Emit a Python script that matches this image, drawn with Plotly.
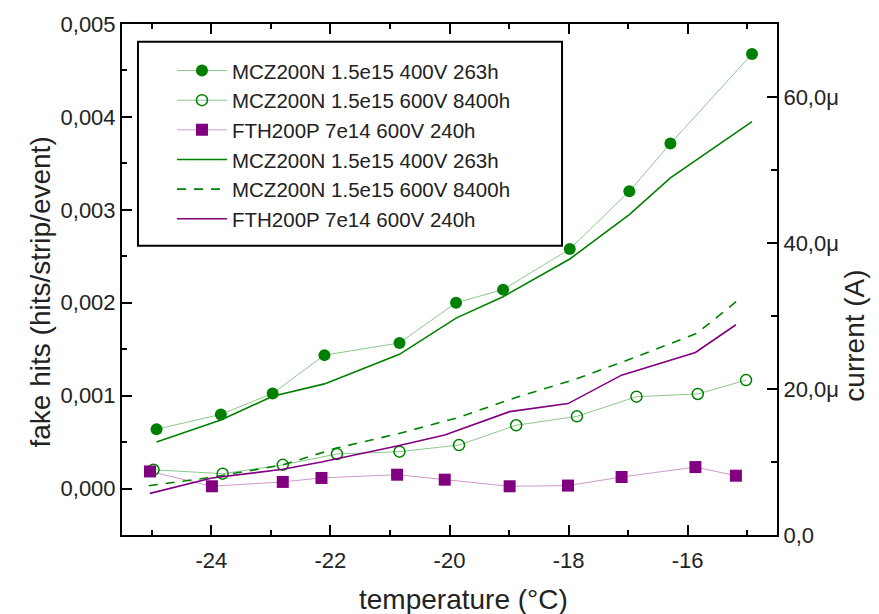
import plotly.graph_objects as go

# --- fake-hit rate (left axis) ---
t_mcz400 = [-24.92, -23.84, -22.97, -22.10, -20.84, -19.89, -19.10, -17.98, -16.98, -16.29, -14.92]
hits_mcz400 = [0.000638, 0.000798, 0.001024, 0.001436, 0.001567, 0.002000, 0.002141, 0.002578, 0.003199, 0.003713, 0.004678]

t_mcz600 = [-24.97, -23.81, -22.80, -21.89, -20.84, -19.84, -18.88, -17.86, -16.86, -15.83, -15.02]
hits_mcz600 = [0.000202, 0.000160, 0.000255, 0.000372, 0.000397, 0.000468, 0.000681, 0.000777, 0.000989, 0.001018, 0.001167]

t_fth = [-25.03, -23.99, -22.80, -22.15, -20.88, -20.08, -18.99, -18.01, -17.11, -15.87, -15.19]
hits_fth = [0.000184, 0.0000245, 0.0000713, 0.000114, 0.000149, 0.0000957, 0.0000245, 0.0000319, 0.000124, 0.000231, 0.000138]

# --- leakage current (right axis, ampere) ---
cur_mcz400 = [12.73e-6, 15.76e-6, 19.0e-6, 20.7e-6, 24.75e-6, 29.71e-6, 32.64e-6, 37.81e-6, 43.89e-6, 48.93e-6, 56.62e-6]

t_mcz600_cur = [-25.05, -24.0, -22.8, -21.9, -20.85, -19.85, -18.9, -17.9, -16.9, -15.85, -15.15]
cur_mcz600 = [6.75e-6, 7.9e-6, 9.6e-6, 11.9e-6, 13.9e-6, 16.1e-6, 18.8e-6, 21.3e-6, 24.3e-6, 27.6e-6, 32.2e-6]

cur_fth = [5.7e-6, 7.8e-6, 9.0e-6, 10.0e-6, 12.2e-6, 13.7e-6, 16.9e-6, 18.0e-6, 21.9e-6, 25.0e-6, 28.8e-6]

# --- labels ---
names = ["MCZ200N 1.5e15 400V 263h", "MCZ200N 1.5e15 600V 8400h", "FTH200P 7e14 600V 240h"]
x_title = "temperature (°C)"
y_title = "fake hits (hits/strip/event)"
y2_title = "current (A)"
x_tickvals = [-24, -22, -20, -18, -16]
x_ticktext = ["-24", "-22", "-20", "-18", "-16"]
left_ticks = [0.000, 0.001, 0.002, 0.003, 0.004, 0.005]
right_tickvals = [0, 20e-6, 40e-6, 60e-6]
right_ticktext = ["0,0", "20,0μ", "40,0μ", "60,0μ"]

GREEN = "#008000"
PURPLE = "#800080"
LIGHT_GREEN = "rgba(0,128,0,0.45)"
LIGHT_PURPLE = "rgba(128,0,128,0.4)"
FONT = "Liberation Sans, Arial, sans-serif"
TEXT = "#222"

fig = go.Figure()

fig.add_trace(go.Scatter(x=t_mcz400, y=hits_mcz400, name=names[0], mode="lines+markers",
                         line=dict(color=LIGHT_GREEN, width=1),
                         marker=dict(symbol="circle", size=12, color=GREEN, line=dict(width=0))))
fig.add_trace(go.Scatter(x=t_mcz600, y=hits_mcz600, name=names[1], mode="lines+markers",
                         line=dict(color=LIGHT_GREEN, width=1),
                         marker=dict(symbol="circle-open", size=11, color=GREEN, line=dict(width=1.5))))
fig.add_trace(go.Scatter(x=t_fth, y=hits_fth, name=names[2], mode="lines+markers",
                         line=dict(color=LIGHT_PURPLE, width=1),
                         marker=dict(symbol="square", size=12, color=PURPLE, line=dict(width=0))))

fig.add_trace(go.Scatter(x=t_mcz400, y=cur_mcz400, name=names[0], mode="lines", yaxis="y2",
                         line=dict(color=GREEN, width=1.6)))
fig.add_trace(go.Scatter(x=t_mcz600_cur, y=cur_mcz600, name=names[1], mode="lines", yaxis="y2",
                         line=dict(color=GREEN, width=1.6, dash="9px,8px")))
fig.add_trace(go.Scatter(x=t_fth, y=cur_fth, name=names[2], mode="lines", yaxis="y2",
                         line=dict(color=PURPLE, width=1.6)))

axis_common = dict(showline=True, linecolor="black", linewidth=2, ticks="inside",
                   tickcolor="black", tickwidth=2, ticklen=10, showgrid=False, zeroline=False,
                   tickfont=dict(family=FONT, size=22, color=TEXT))

title_font = dict(family=FONT, size=28, color=TEXT)

fig.update_layout(
    width=879, height=614,
    margin=dict(l=122, r=102, t=19, b=79),
    paper_bgcolor="white", plot_bgcolor="white",
    separators=", ",
    font=dict(family=FONT, color=TEXT),
    xaxis=dict(range=[-25.5, -14.5], tickvals=x_tickvals, ticktext=x_ticktext,
               mirror="ticks", ticklabelstandoff=5,
               minor=dict(dtick=1, tick0=-24, ticks="inside", ticklen=5, tickwidth=2, tickcolor="black"),
               **axis_common),
    yaxis=dict(range=[-0.0005, 0.005], tickvals=left_ticks, tickformat=".3f",
               minor=dict(dtick=0.0005, tick0=0, ticks="inside", ticklen=5, tickwidth=2, tickcolor="black"),
               **axis_common),
    yaxis2=dict(range=[0, 70e-6], overlaying="y", side="right", tickvals=right_tickvals,
                ticktext=right_ticktext,
                minor=dict(dtick=10e-6, tick0=0, ticks="inside", ticklen=6, tickwidth=2, tickcolor="black"),
                **axis_common),
    legend=dict(x=0.0763, y=0.9477, xanchor="left", yanchor="top", bgcolor="rgba(0,0,0,0)",
                borderwidth=0, itemwidth=50, tracegroupgap=0,
                font=dict(family=FONT, size=20.5, color=TEXT)),
    shapes=[dict(type="rect", xref="paper", yref="paper", x0=0.0244, x1=0.6718, y0=0.5659, y1=0.9651,
                 line=dict(color="black", width=2), fillcolor="rgba(0,0,0,0)")],
    annotations=[
        dict(text=x_title, xref="paper", yref="paper", x=0.522, y=-0.126,
             xanchor="center", yanchor="middle", showarrow=False, font=title_font),
        dict(text=y_title, xref="paper", yref="paper", x=-0.125, y=0.4748, textangle=-90,
             xanchor="center", yanchor="middle", showarrow=False, font=title_font),
        dict(text=y2_title, xref="paper", yref="paper", x=1.119, y=0.39, textangle=-90,
             xanchor="center", yanchor="middle", showarrow=False, font=title_font),
    ],
    showlegend=True,
)

fig.write_html("out.html")
